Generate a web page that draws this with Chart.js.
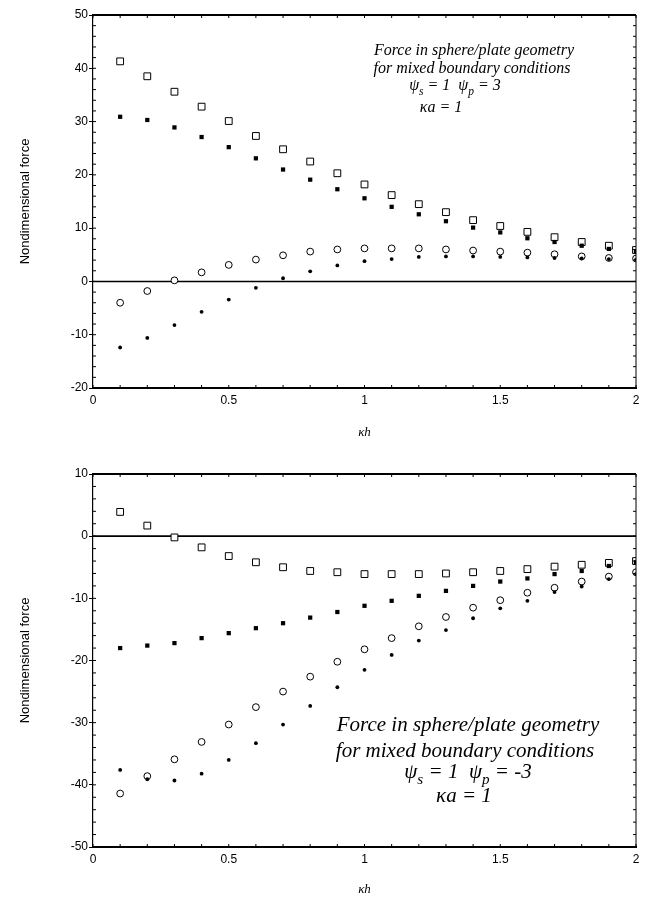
<!DOCTYPE html>
<html><head><meta charset="utf-8">
<script src="https://cdn.jsdelivr.net/npm/chart.js@4"></script>
<style>
html,body{margin:0;padding:0;background:#fff;width:647px;height:898px;overflow:hidden;}
.wrap{position:absolute;left:0;width:647px;}
#w1{top:0;height:445px;}
#w2{top:455px;height:447px;}
.note{position:absolute;font-family:"Liberation Serif","Times New Roman",serif;font-style:italic;color:#000;white-space:nowrap;line-height:1;transform:translateX(-50%);}
.note sub{font-size:0.72em;vertical-align:-0.4em;line-height:0;}
</style></head>
<body>
<div class="wrap" id="w1"><canvas id="c1" width="647" height="445"></canvas></div>
<div class="wrap" id="w2"><canvas id="c2" width="647" height="447"></canvas></div>

<div class="note" style="font-size:16px;left:474px;top:42px;">Force in sphere/plate geometry</div>
<div class="note" style="font-size:16px;left:472px;top:60px;">for mixed boundary conditions</div>
<div class="note" style="font-size:16px;left:455px;top:77px;">ψ<sub>s</sub> = 1&nbsp;&nbsp;ψ<sub>p</sub> = 3</div>
<div class="note" style="font-size:16px;left:441px;top:99px;">κa = 1</div>

<div class="note" style="font-size:21px;left:468px;top:714px;">Force in sphere/plate geometry</div>
<div class="note" style="font-size:21px;left:465px;top:740px;">for mixed boundary conditions</div>
<div class="note" style="font-size:21px;left:468px;top:761px;">ψ<sub>s</sub> = 1&nbsp;&nbsp;ψ<sub>p</sub> = -3</div>
<div class="note" style="font-size:21px;left:464px;top:785px;">κa = 1</div>

<script>
// ---- data ----
const kh = [0.1,0.2,0.3,0.4,0.5,0.6,0.7,0.8,0.9,1.0,1.1,1.2,1.3,1.4,1.5,1.6,1.7,1.8,1.9,2.0];

// top panel: psi_s = 1, psi_p = 3
const topOpenSquare   = [41.3,38.5,35.6,32.8,30.1,27.3,24.8,22.5,20.3,18.2,16.2,14.5,13.0,11.5,10.4,9.3,8.3,7.4,6.7,5.9];
const topFilledSquare = [30.9,30.3,28.9,27.1,25.2,23.1,21.0,19.1,17.3,15.6,14.0,12.6,11.3,10.1,9.2,8.1,7.4,6.7,6.1,5.6];
const topOpenCircle   = [-4.0,-1.8,0.2,1.7,3.1,4.1,4.9,5.6,6.0,6.2,6.2,6.2,6.0,5.8,5.6,5.4,5.1,4.7,4.4,4.3];
const topFilledCircle = [-12.4,-10.6,-8.2,-5.7,-3.4,-1.2,0.6,1.9,3.0,3.8,4.2,4.6,4.7,4.7,4.6,4.5,4.4,4.3,4.2,4.1];

// bottom panel: psi_s = 1, psi_p = -3
const botOpenSquare   = [3.9,1.7,-0.2,-1.8,-3.2,-4.2,-5.0,-5.6,-5.8,-6.1,-6.1,-6.1,-6.0,-5.8,-5.6,-5.3,-4.9,-4.6,-4.3,-4.0];
const botFilledSquare = [-18.0,-17.6,-17.2,-16.4,-15.6,-14.8,-14.0,-13.1,-12.2,-11.2,-10.4,-9.6,-8.8,-8.0,-7.3,-6.8,-6.1,-5.6,-4.8,-4.2];
const botOpenCircle   = [-41.4,-38.6,-35.9,-33.1,-30.3,-27.5,-25.0,-22.6,-20.2,-18.2,-16.4,-14.5,-13.0,-11.5,-10.3,-9.1,-8.3,-7.3,-6.5,-5.8];
const botFilledCircle = [-37.6,-39.1,-39.3,-38.2,-36.0,-33.3,-30.3,-27.3,-24.3,-21.5,-19.1,-16.8,-15.1,-13.2,-11.6,-10.4,-9.0,-8.1,-6.9,-6.1];

const xTickLabels   = [0,0.5,1,1.5,2];
const yTickTop      = [50,40,30,20,10,0,-10,-20];
const yTickBottom   = [10,0,-10,-20,-30,-40,-50];
const xTitle = 'κh';
const yTitle = 'Nondimensional force';

// ---- helpers ----
function pts(arr){ return kh.map((x,i)=>({x:x, y:arr[i]})); }

function datasets(fc, fs, oc, os){
  return [
    {label:'filled circle', data:pts(fc), pointStyle:'circle', pointRadius:1.9, backgroundColor:'#000', borderColor:'#000', pointBorderWidth:0},
    {label:'filled square', data:pts(fs), pointStyle:'rect', pointRadius:3.0, backgroundColor:'#000', borderColor:'#000', pointBorderWidth:0},
    {label:'open circle', data:pts(oc), pointStyle:'circle', pointRadius:3.4, backgroundColor:'#fff', borderColor:'#000', pointBorderWidth:1},
    {label:'open square', data:pts(os), pointStyle:'rect', pointRadius:4.8, backgroundColor:'#fff', borderColor:'#000', pointBorderWidth:1}
  ];
}

const framePlugin = {
  id:'frame',
  beforeDatasetsDraw(chart){
    const ctx = chart.ctx, a = chart.chartArea, y = chart.scales.y;
    const y0 = y.getPixelForValue(0);
    ctx.save();
    ctx.strokeStyle = '#000'; ctx.lineWidth = 1.6;
    ctx.beginPath(); ctx.moveTo(a.left, y0); ctx.lineTo(a.right, y0); ctx.stroke();
    ctx.restore();
  },
  afterDraw(chart){
    const ctx = chart.ctx, a = chart.chartArea, xs = chart.scales.x, ys = chart.scales.y;
    ctx.save();
    ctx.strokeStyle = '#000';
    ctx.lineWidth = 2;
    ctx.beginPath(); ctx.moveTo(a.left, a.top); ctx.lineTo(a.right, a.top); ctx.stroke();
    ctx.lineWidth = 1;
    ctx.beginPath(); ctx.moveTo(a.right, a.top); ctx.lineTo(a.right, a.bottom); ctx.stroke();
    ctx.beginPath();
    for (let v = Math.ceil(ys.min); v <= ys.max; v += 2) {
      const p = ys.getPixelForValue(v);
      ctx.moveTo(a.left, p); ctx.lineTo(a.left + 3, p);
      ctx.moveTo(a.right, p); ctx.lineTo(a.right - 3, p);
    }
    for (let i = 0; i <= 20; i++) {
      const p = xs.getPixelForValue(i / 10);
      ctx.moveTo(p, a.bottom); ctx.lineTo(p, a.bottom - 3);
      ctx.moveTo(p, a.top); ctx.lineTo(p, a.top + 3);
    }
    ctx.stroke();
    ctx.restore();
  }
};

function makeChart(id, ds, ymin, ymax, yTicks, padTop, padBottom, xHeight){
  return new Chart(document.getElementById(id), {
    type:'scatter',
    data:{datasets:ds},
    plugins:[framePlugin],
    options:{
      responsive:false, animation:false, events:[],
      layout:{padding:{left:14, right:11, top:padTop, bottom:padBottom}},
      plugins:{legend:{display:false}, tooltip:{enabled:false}},
      scales:{
        x:{
          type:'linear', min:0, max:2,
          afterBuildTicks: s => { s.ticks = xTickLabels.map(v=>({value:v})); },
          afterFit: s => { s.height = xHeight; },
          ticks:{callback: v => String(v), color:'#000', padding:1, maxRotation:0,
                 font:{family:'"Liberation Sans", Arial, sans-serif', size:12}},
          grid:{drawOnChartArea:false, drawTicks:true, tickLength:4, color:'transparent'},
          border:{display:true, color:'#000', width:2},
          title:{display:true, text:xTitle, color:'#000',
                 font:{family:'"Liberation Serif", serif', style:'italic', size:13}}
        },
        y:{
          type:'linear', min:ymin, max:ymax,
          afterBuildTicks: s => { s.ticks = yTicks.map(v=>({value:v})); },
          afterFit: s => { s.width = 79; },
          ticks:{callback: v => String(v), color:'#000', padding:1,
                 font:{family:'"Liberation Sans", Arial, sans-serif', size:12}},
          grid:{drawOnChartArea:false, drawTicks:true, tickLength:4, color:'#000'},
          border:{display:true, color:'#000', width:1.2},
          title:{display:true, text:yTitle, color:'#000',
                 font:{family:'"Liberation Sans", Arial, sans-serif', size:13}}
        }
      }
    }
  });
}

makeChart('c1', datasets(topFilledCircle, topFilledSquare, topOpenCircle, topOpenSquare), -20, 50, yTickTop, 15, 1, 56);
makeChart('c2', datasets(botFilledCircle, botFilledSquare, botOpenCircle, botOpenSquare), -50, 10, yTickBottom, 19, 1, 54);
</script>
</body></html>
